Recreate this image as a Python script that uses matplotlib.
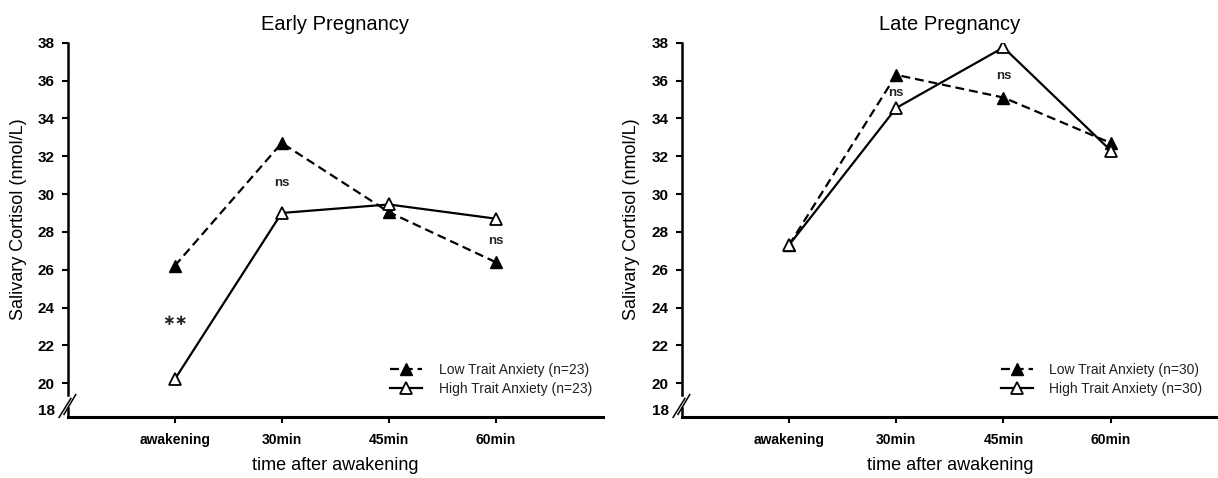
import matplotlib
matplotlib.use("Agg")
import matplotlib.pyplot as plt
import matplotlib.transforms as mtransforms

plt.rcParams['font.family'] = ['Liberation Sans', 'DejaVu Sans']

# ---------------- data ----------------
categories = ["awakening", "30min", "45min", "60min"]
yticks_vals = [20, 22, 24, 26, 28, 30, 32, 34, 36, 38]

early_low = [26.2, 32.7, 29.05, 26.4]
early_high = [20.2, 29.0, 29.45, 28.7]
late_low = [27.3, 36.3, 35.1, 32.7]
late_high = [27.3, 34.55, 37.75, 32.3]

early_labels = ["Low Trait Anxiety (n=23)", "High Trait Anxiety (n=23)"]
late_labels = ["Low Trait Anxiety (n=30)", "High Trait Anxiety (n=30)"]

early_annot = [(0, 23.3, "**"), (1, 30.6, "ns"), (3, 27.5, "ns")]
late_annot = [(1, 35.35, "ns"), (2, 36.25, "ns")]

titles = ["Early Pregnancy", "Late Pregnancy"]

# ---------------- figure ----------------
W, H = 1218, 478
fig = plt.figure(figsize=(W / 100, H / 100), dpi=100)

def px_axes(x0, x1, ytop, ybot):
    return fig.add_axes([x0 / W, 1 - ybot / H, (x1 - x0) / W, (ybot - ytop) / H])

ax1 = px_axes(67.7, 602.7, 42.7, 417.3)
ax2 = px_axes(681.7, 1218, 42.7, 417.3)

panels = [
    (ax1, early_low, early_high, early_labels, early_annot, titles[0], (0.603, 0.145)),
    (ax2, late_low, late_high, late_labels, late_annot, titles[1], (0.595, 0.145)),
]

x = list(range(len(categories)))

for ax, low, high, labels, annots, title, legpos in panels:
    ax.plot(x, low, color='black', lw=1.6, linestyle='--', dashes=(4, 2.2),
            marker='^', markersize=8, markerfacecolor='black',
            markeredgecolor='black', label=labels[0], zorder=3)
    ax.plot(x, high, color='black', lw=1.6, linestyle='-',
            marker='^', markersize=8.5, markerfacecolor='white',
            markeredgecolor='black', markeredgewidth=1.3, label=labels[1], zorder=4)

    for xi, yi, txt in annots:
        if txt == "**":
            ax.text(xi, yi, "\u2217\u2217", ha='center', va='center', fontsize=11,
                    fontweight='bold', color='#222222', family='DejaVu Sans')
        else:
            ax.text(xi, yi, txt, ha='center', va='center', fontsize=9.5,
                    fontweight='bold', color='#222222')

    ax.set_xlim(-1.0, 4.0)
    ax.set_ylim(18.2, 38)

    ax.set_xticks(x)
    ax.set_xticklabels(categories, fontsize=10, fontweight='bold')
    ax.set_yticks([18.6] + yticks_vals)
    ax.set_yticklabels(['18'] + [str(v) for v in yticks_vals], fontsize=11,
                       fontweight='bold')
    ax.yaxis.get_major_ticks()[0].tick1line.set_visible(False)

    ax.tick_params(axis='x', direction='out', length=4.5, width=1.5, pad=7)
    ax.tick_params(axis='y', direction='out', length=4.5, width=1.5, pad=5)

    for side in ('top', 'right'):
        ax.spines[side].set_visible(False)
    ax.spines['bottom'].set_linewidth(2.2)
    ax.spines['left'].set_linewidth(1.8)
    ax.spines['left'].set_bounds(19.4, 38)

    # axis break
    tr = mtransforms.blended_transform_factory(ax.transAxes, ax.transData)
    ax.plot([0, 0], [18.2, 18.7], color='black', lw=1.8, transform=tr, clip_on=False)
    ax.plot([-0.016, 0.006], [18.2, 19.2], color='black', lw=1.1, transform=tr, clip_on=False)
    ax.plot([-0.007, 0.015], [18.35, 19.4], color='black', lw=1.1, transform=tr, clip_on=False)

    ax.set_title(title, fontsize=14.5, pad=9)
    ax.set_xlabel("time after awakening", fontsize=13, labelpad=7)
    ax.set_ylabel("Salivary Cortisol (nmol/L)", fontsize=13)
    ax.yaxis.set_label_coords(-0.077, 0.53)

    leg = ax.legend(loc='upper left', bbox_to_anchor=legpos, frameon=False,
                    fontsize=10, handlelength=2.3, handletextpad=1.2,
                    labelspacing=0.35, borderpad=0, borderaxespad=0)
    for t in leg.get_texts():
        t.set_color('#222222')

fig.savefig("out.png", dpi=100)
